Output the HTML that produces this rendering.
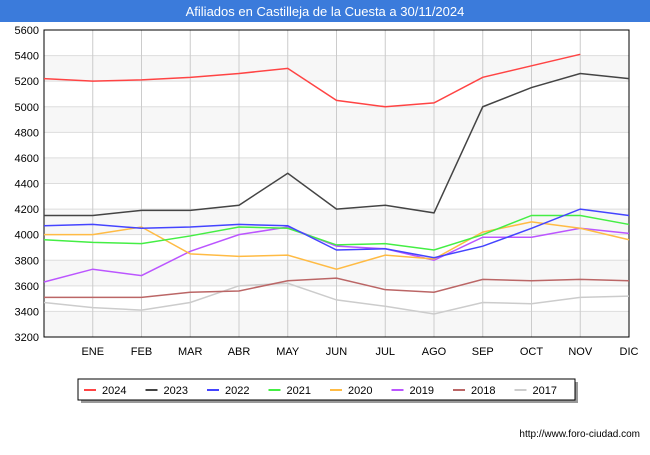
<!DOCTYPE html>
<html><head><meta charset="utf-8"><style>
body{margin:0;width:650px;height:450px;background:#fff;font-family:"Liberation Sans",sans-serif;overflow:hidden}
</style></head><body>
<svg width="650" height="450" xmlns="http://www.w3.org/2000/svg" font-family="Liberation Sans, sans-serif">
<rect x="0" y="0" width="650" height="22" fill="#3b7bdb"/>
<text x="325" y="16" text-anchor="middle" fill="#fff" font-size="13">Afiliados en Castilleja de la Cuesta a 30/11/2024</text>
<g id="plot"></g>
<g>
<rect x="81" y="382" width="497" height="21" fill="#999"/>
<rect x="78" y="379" width="497" height="21" fill="#fff" stroke="#000" stroke-width="1"/>
<g id="leg"></g>
</g>
<text x="640" y="437" text-anchor="end" font-size="10" fill="#000">http://www.foro-ciudad.com</text>
</svg>
<script>
const months=["","ENE","FEB","MAR","ABR","MAY","JUN","JUL","AGO","SEP","OCT","NOV","DIC"];
const yTicks=[3200,3400,3600,3800,4000,4200,4400,4600,4800,5000,5200,5400,5600];
const seriesNames=["2024","2023","2022","2021","2020","2019","2018","2017"];
const colors=["#ff4444","#444444","#4444ff","#44ee44","#ffbb44","#bb55ff","#bb6666","#cccccc"];
const s2024=[5220,5200,5210,5230,5260,5300,5050,5000,5030,5230,5320,5410];
const s2023=[4150,4150,4190,4190,4230,4480,4200,4230,4170,5000,5150,5260,5220];
const s2022=[4070,4080,4050,4060,4080,4070,3880,3890,3820,3910,4050,4200,4150];
const s2021=[3960,3940,3930,3990,4060,4050,3920,3930,3880,4000,4150,4150,4080];
const s2020=[4000,4000,4060,3850,3830,3840,3730,3840,3810,4020,4100,4050,3960];
const s2019=[3630,3730,3680,3870,4000,4060,3910,3890,3800,3980,3980,4050,4010];
const s2018=[3510,3510,3510,3550,3560,3640,3660,3570,3550,3650,3640,3650,3640];
const s2017=[3470,3430,3410,3470,3600,3620,3490,3440,3380,3470,3460,3510,3520];
const allSeries=[s2024,s2023,s2022,s2021,s2020,s2019,s2018,s2017];
const NS="http://www.w3.org/2000/svg";
const x0=44,x1=629,yTop=30,yBot=337,vMin=3200,vMax=5600;
const X=i=>x0+i*(x1-x0)/12;
const Y=v=>yBot-(v-vMin)/(vMax-vMin)*(yBot-yTop);
const plot=document.getElementById('plot');
function mk(tag,attrs,parent){const e=document.createElementNS(NS,tag);for(const k in attrs)e.setAttribute(k,attrs[k]);(parent||plot).appendChild(e);return e;}
for(let i=0;i<yTicks.length-1;i++){
 if(i%2===0){const r=mk('rect',{x:x0,y:Y(yTicks[i+1]),width:x1-x0,height:Y(yTicks[i])-Y(yTicks[i+1]),fill:'#f7f7f7'});
 
 }
}
yTicks.forEach(v=>{
 const l=mk('line',{x1:x0,x2:x1,y1:Y(v),y2:Y(v),stroke:'#dddddd','stroke-width':1});
 
 
 const t=mk('text',{x:x0-5,y:Y(v)+4,'text-anchor':'end','font-size':11,fill:'#000'});
 t.textContent=v;
 
 
});
months.forEach((m,i)=>{
 if(i>0){const l=mk('line',{x1:X(i),x2:X(i),y1:yTop,y2:yBot,stroke:'#cccccc','stroke-width':1});
 
 }
 const t=mk('text',{x:X(i),y:yBot+18,'text-anchor':'middle','font-size':11,fill:'#000'});
 t.textContent=m;
 
 
});
const fr=mk('rect',{x:x0,y:yTop,width:x1-x0,height:yBot-yTop,fill:'none',stroke:'#000','stroke-width':1});


for(let s=allSeries.length-1;s>=0;s--){
 const pts=allSeries[s].map((v,i)=>X(i)+','+Y(v)).join(' ');
 const p=mk('polyline',{points:pts,fill:'none',stroke:colors[s],'stroke-width':1.5});
 
 
}
const leg=document.getElementById('leg');
seriesNames.forEach((n,i)=>{
 const bx=84+i*61.5;
 const l=mk('line',{x1:bx,x2:bx+12,y1:390,y2:390,stroke:colors[i],'stroke-width':2},leg);
 
 
 const t=mk('text',{x:bx+18,y:394,'font-size':11,fill:'#000'},leg);
 t.textContent=n;
 
 
});
</script>
</body></html>
